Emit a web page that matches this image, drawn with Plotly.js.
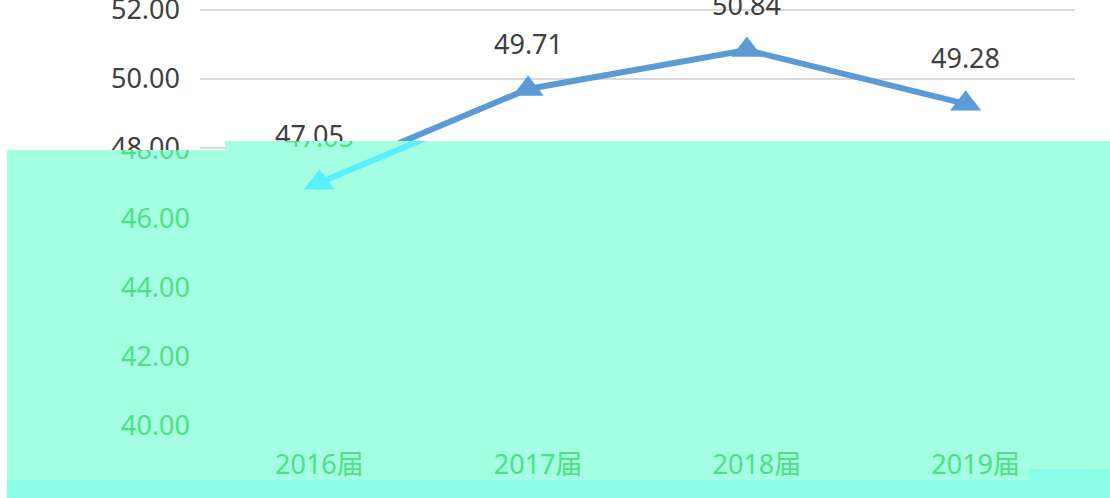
<!DOCTYPE html>
<html>
<head>
<meta charset="utf-8">
<script src="https://cdn.plot.ly/plotly-3.0.1.min.js"></script>
<style>
  html, body { margin: 0; padding: 0; background: #ffffff; }
  #wrap { position: relative; width: 1110px; height: 498px; overflow: hidden; }
  #base { position: absolute; left: 0; top: 0; }
  #ov { position: absolute; left: 0; top: 0; width: 1110px; height: 498px; background: #a4ffe2;
        clip-path: polygon(7px 150px, 225px 150px, 225px 141px, 1110px 141px, 1110px 498px, 7px 498px); overflow: hidden; }
  #ovplot { position: absolute; left: 10px; top: 2px; }
  #strip { position: absolute; left: 7px; top: 480px; width: 1103px; height: 18px; background: #8cfee8; }
  #strip2 { position: absolute; left: 1030px; top: 469px; width: 80px; height: 11px; background: #8cfee8; }
</style>
</head>
<body>
<div id="wrap">
  <div id="base"></div>
  <div id="ov"><div id="ovplot"></div></div>
  <div id="strip"></div>
  <div id="strip2"></div>
</div>
<script>
const categories = ['2016届', '2017届', '2018届', '2019届'];
const values = [47.05, 49.71, 50.84, 49.28];
const yTicks = [40, 42, 44, 46, 48, 50, 52];
const yTickText = yTicks.map(v => v.toFixed(2));
const pointLabels = values.map(v => v.toFixed(2));

const FONT = '"Noto Sans", "Noto Sans CJK SC", sans-serif';

function makeFig(c) {
  const trace = {
    type: 'scatter',
    mode: 'lines+markers',
    x: categories,
    y: values,
    line: { color: c.line, width: 6 },
    marker: { symbol: 'triangle-up', size: 27, color: c.line },
    cliponaxis: false,
    hoverinfo: 'skip'
  };
  const annotations = categories
    .map((cat, i) => ({
      x: cat, y: values[i], text: pointLabels[i],
      showarrow: false, yshift: 46, yanchor: 'middle',
      font: { family: FONT, size: 27, color: c.text }
    }))
    .filter((a, i) => values[i] <= c.maxLabelValue);
  const tv = yTicks.filter(v => v >= c.minTick && v <= c.maxTick);
  const layout = {
    width: 1110, height: 498,
    margin: { l: 200, r: 35, t: 0, b: 74, pad: 0 },
    paper_bgcolor: c.bg, plot_bgcolor: c.bg,
    showlegend: false,
    font: { family: FONT, size: 27, color: c.text },
    xaxis: {
      type: 'category', categoryarray: categories, range: [-0.5, 3.5],
      showgrid: false, zeroline: false, showline: false, ticks: '',
      showticklabels: c.xLabels,
      ticklabelstandoff: 20,
      tickfont: { family: FONT, size: 27, color: c.text }
    },
    yaxis: {
      range: [40, 52.29], tickvals: tv, ticktext: tv.map(v => yTickText[yTicks.indexOf(v)]),
      showgrid: c.grid !== null, gridcolor: c.grid || '#d9d9d9', gridwidth: 2,
      zeroline: false, showline: false, ticks: '',
      ticklabelstandoff: 19, ticklabeloverflow: 'allow',
      tickfont: { family: FONT, size: 27, color: c.text }
    },
    annotations: annotations
  };
  return { data: [trace], layout: layout };
}

const cfg = { staticPlot: true, displayModeBar: false };

const baseFig = makeFig({ bg: '#ffffff', line: '#5b9bd5', text: '#404040', grid: '#d9d9d9',
                          minTick: 48, maxTick: 52, xLabels: false, maxLabelValue: 99 });
Plotly.newPlot('base', baseFig.data, baseFig.layout, cfg);

const ovFig = makeFig({ bg: 'rgba(0,0,0,0)', line: '#58f0ff', text: '#50de86', grid: null,
                        minTick: 40, maxTick: 48, xLabels: true, maxLabelValue: 48 });
Plotly.newPlot('ovplot', ovFig.data, ovFig.layout, cfg);
</script>
</body>
</html>
